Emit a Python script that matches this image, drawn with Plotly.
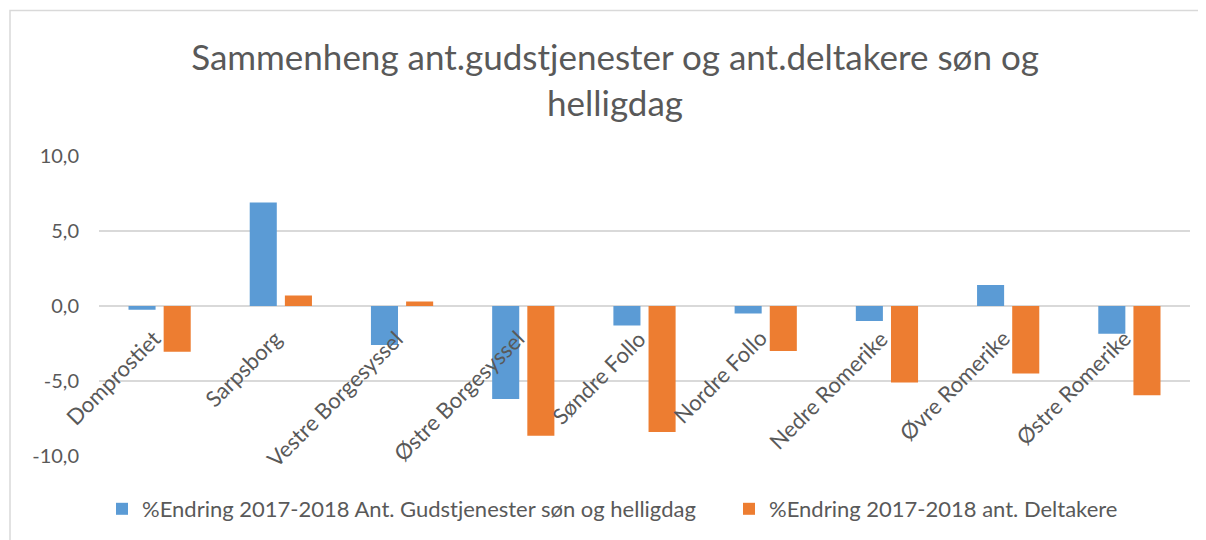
import plotly.graph_objects as go

categories = ["Domprostiet", "Sarpsborg", "Vestre Borgesyssel", "Østre Borgesyssel",
              "Søndre Follo", "Nordre Follo", "Nedre Romerike", "Øvre Romerike", "Østre Romerike"]
gudstjenester = [-0.25, 6.9, -2.6, -6.2, -1.3, -0.5, -1.0, 1.4, -1.85]
deltakere = [-3.05, 0.7, 0.3, -8.65, -8.4, -3.0, -5.1, -4.5, -5.95]
series_names = ["%Endring 2017-2018 Ant. Gudstjenester søn og helligdag",
                "%Endring 2017-2018 ant. Deltakere"]
y_ticks = [-10, -5, 0, 5, 10]
y_tick_labels = ["-10,0", "-5,0", "0,0", "5,0", "10,0"]

FONT = "Lato"
GREY = "#595959"
OFF = 8  # page body margin
W, H = 1206 - OFF, 540 - OFF
L, R, T, B = 91, 16, 148, 84
PW, PH = W - L - R, H - T - B


def px_x(screen):
    return (screen - OFF - L) / PW


def px_y(screen):
    return (H - B - (screen - OFF)) / PH


fig = go.Figure()
fig.add_trace(go.Bar(x=categories, y=gudstjenester, name=series_names[0],
                     marker=dict(color="#5B9BD5", line=dict(width=0)), legend="legend"))
fig.add_trace(go.Bar(x=categories, y=deltakere, name=series_names[1],
                     marker=dict(color="#ED7D31", line=dict(width=0)), legend="legend2"))

for c in categories:
    fig.add_annotation(x=c, y=0, xref="x", yref="y", text=c, showarrow=False,
                       textangle=-45, xanchor="right", yanchor="top",
                       xshift=9, yshift=-16,
                       font=dict(family=FONT, size=22, color=GREY))

fig.add_shape(type="rect", xref="paper", yref="paper",
              x0=px_x(10), x1=px_x(1230), y0=px_y(560), y1=px_y(10.5),
              line=dict(color="#D9D9D9", width=1.5), fillcolor="rgba(0,0,0,0)", layer="below")

leg_font = dict(family=FONT, size=22, color=GREY)
fig.update_layout(
    width=W, height=H,
    margin=dict(l=L, r=R, t=T, b=B, autoexpand=False),
    paper_bgcolor="white", plot_bgcolor="white",
    barmode="group", bargap=0.42, bargroupgap=0.23,
    title=dict(text="Sammenheng ant.gudstjenester og ant.deltakere søn og<br>helligdag",
               x=(615 - OFF) / W, xanchor="center", y=1 - 62 / H, yanchor="top",
               font=dict(family=FONT, size=35, color=GREY)),
    font=dict(family=FONT, color=GREY),
    xaxis=dict(range=[-0.5, len(categories) - 0.5], showticklabels=False, showgrid=False,
               zeroline=False, showline=False, ticks="", automargin=False),
    yaxis=dict(range=[-10, 10], tickvals=y_ticks, ticktext=y_tick_labels, automargin=False,
               showgrid=True, gridcolor="#D9D9D9", gridwidth=1.5,
               zeroline=True, zerolinecolor="#D9D9D9", zerolinewidth=1.5,
               tickfont=dict(family=FONT, size=20, color=GREY), ticks="", ticklabelstandoff=19),
    legend=dict(orientation="h", x=px_x(102), xanchor="left", y=px_y(488), yanchor="top",
                font=leg_font, bgcolor="rgba(0,0,0,0)"),
    legend2=dict(orientation="h", x=px_x(729), xanchor="left", y=px_y(488), yanchor="top",
                 font=leg_font, bgcolor="rgba(0,0,0,0)"),
    showlegend=True,
)

fig.write_html("out.html")
